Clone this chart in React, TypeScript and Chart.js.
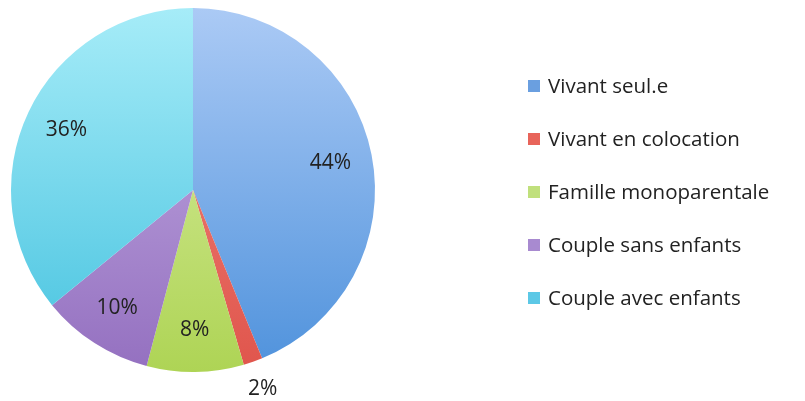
import React, { useEffect, useRef } from "react";
import { Chart, registerables } from "chart.js";

Chart.register(...registerables);

const categories = [
  "Vivant seul.e",
  "Vivant en colocation",
  "Famille monoparentale",
  "Couple sans enfants",
  "Couple avec enfants",
];
const values = [43.8, 1.7, 8.6, 10.0, 35.9];
const pctLabels = ["44%", "2%", "8%", "10%", "36%"];
const lightColors = ["#abcaf5", "#f08a80", "#dcefa6", "#c6b0e4", "#a6ecf8"];
const darkColors = ["#4f92dc", "#e0554c", "#aed455", "#9470c0", "#45c2df"];
const legendColors = ["#6a9fe0", "#e8645a", "#c0e07c", "#a88ad0", "#5cc8e6"];

const FONT = "'Open Sans', 'DejaVu Sans', sans-serif";

export default function App() {
  const ref = useRef<HTMLCanvasElement | null>(null);

  useEffect(() => {
    document.body.style.margin = "0";
    const canvas = ref.current;
    if (!canvas) return;

    const labelPlugin = {
      id: "pieLabels",
      afterDatasetsDraw(chart: any) {
        const ctx = chart.ctx;
        const meta = chart.getDatasetMeta(0);
        ctx.save();
        ctx.font = `21px ${FONT}`;
        ctx.fillStyle = "#222";
        ctx.textAlign = "center";
        ctx.textBaseline = "middle";
        meta.data.forEach((arc: any, i: number) => {
          const p = arc.getProps(["x", "y", "startAngle", "endAngle", "outerRadius"], true);
          const mid = (p.startAngle + p.endAngle) / 2;
          const share = values[i];
          const f = share < 5 ? 1.16 : 0.77;
          const r = p.outerRadius * f;
          ctx.fillText(pctLabels[i], p.x + Math.cos(mid) * r, p.y + Math.sin(mid) * r);
        });
        ctx.restore();
      },
    };

    const legendPlugin = {
      id: "customLegend",
      afterDraw(chart: any) {
        const ctx = chart.ctx;
        ctx.save();
        ctx.font = `20.5px ${FONT}`;
        ctx.textAlign = "left";
        ctx.textBaseline = "middle";
        const x0 = 528;
        const y0 = 86;
        const step = 53;
        categories.forEach((c, i) => {
          const y = y0 + i * step;
          ctx.fillStyle = legendColors[i];
          ctx.fillRect(x0, y - 6, 12, 12);
          ctx.fillStyle = "#222";
          ctx.fillText(c, x0 + 20, y + 1);
        });
        ctx.restore();
      },
    };

    const chart = new Chart(canvas, {
      type: "pie",
      data: {
        labels: categories,
        datasets: [
          {
            data: values,
            borderWidth: 0,
            backgroundColor: (c: any) => {
              const chart = c.chart;
              const area = chart.chartArea;
              const i = c.dataIndex;
              if (!area || i === undefined) return darkColors[i ?? 0];
              const g = chart.ctx.createLinearGradient(0, area.top, 0, area.bottom);
              g.addColorStop(0, lightColors[i]);
              g.addColorStop(1, darkColors[i]);
              return g;
            },
          },
        ],
      },
      options: {
        animation: false,
        responsive: false,
        maintainAspectRatio: false,
        layout: { padding: { left: 11, right: 430, top: 8, bottom: 29 } },
        plugins: {
          legend: { display: false },
          tooltip: { enabled: false },
        },
      },
      plugins: [labelPlugin, legendPlugin],
    });

    return () => chart.destroy();
  }, []);

  return (
    <div style={{ width: 805, height: 401, background: "#fff" }}>
      <canvas ref={ref} width={805} height={401} style={{ display: "block" }} />
    </div>
  );
}
